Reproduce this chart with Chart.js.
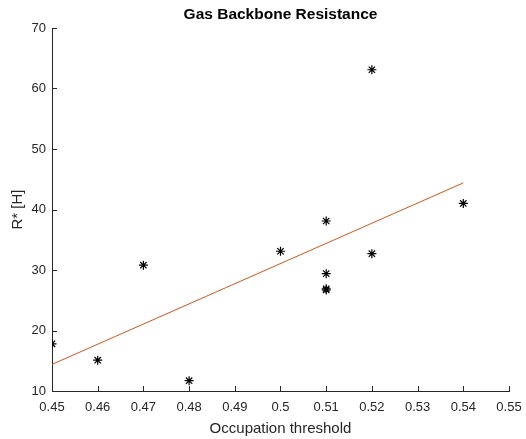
<!DOCTYPE html>
<html>
<head>
<meta charset="utf-8">
<script src="https://cdn.jsdelivr.net/npm/chart.js@4"></script>
<style>
  body { margin: 0; background: #fff; }
  #c { display: block; }
</style>
</head>
<body>
<canvas id="c" width="526" height="439"></canvas>
<script>
// données
const thresholds = [0.45, 0.46, 0.47, 0.48, 0.50, 0.51, 0.51, 0.51, 0.51, 0.52, 0.52, 0.54];
const resistance = [17.8, 15.1, 30.8, 11.7, 33.1, 38.1, 29.4, 26.9, 26.7, 63.1, 32.7, 41.0];
const fitX = [0.45, 0.54];
const fitY = [14.4, 44.4];
const xTicks = [0.45, 0.46, 0.47, 0.48, 0.49, 0.5, 0.51, 0.52, 0.53, 0.54, 0.55];
const yTicks = [10, 20, 30, 40, 50, 60, 70];
const chartTitle = 'Gas Backbone Resistance';

const font = "'Liberation Sans', Arial, Helvetica, sans-serif";
const axisColor = '#262626';

// petits traits de graduation tournés vers l'intérieur (style MATLAB) + titre centré sur la zone du tracé
const matlabStyle = {
  id: 'matlabStyle',
  afterDraw(chart) {
    const ctx = chart.ctx;
    const xs = chart.scales.x, ys = chart.scales.y;
    const area = chart.chartArea;
    ctx.save();
    ctx.strokeStyle = axisColor;
    ctx.lineWidth = 1;
    ctx.beginPath();
    xTicks.forEach(v => {
      const px = Math.round(xs.getPixelForValue(v)) + 0.5;
      ctx.moveTo(px, ys.bottom);
      ctx.lineTo(px, ys.bottom - 5);
    });
    yTicks.forEach(v => {
      const py = Math.round(ys.getPixelForValue(v)) + 0.5;
      ctx.moveTo(xs.left, py);
      ctx.lineTo(xs.left + 5, py);
    });
    ctx.stroke();

    ctx.fillStyle = '#000';
    ctx.font = 'bold 15.5px ' + font;
    ctx.textAlign = 'center';
    ctx.textBaseline = 'middle';
    ctx.fillText(chartTitle, (area.left + area.right) / 2, 15);
    ctx.restore();
  }
};

const chart = new Chart(document.getElementById('c'), {
  type: 'scatter',
  data: {
    datasets: [
      {
        label: 'data',
        data: thresholds.map((x, i) => ({ x: x, y: resistance[i] })),
        pointStyle: 'star',
        radius: 4.5,
        borderColor: '#000',
        borderWidth: 1.2,
        backgroundColor: '#000'
      },
      {
        label: 'fit',
        type: 'line',
        data: fitX.map((x, i) => ({ x: x, y: fitY[i] })),
        borderColor: '#D95319',
        borderWidth: 1,
        pointRadius: 0
      }
    ]
  },
  options: {
    responsive: false,
    animation: false,
    layout: { padding: { left: 0, right: 17, top: 28, bottom: 0 } },
    plugins: {
      legend: { display: false },
      tooltip: { enabled: false },
      title: { display: false }
    },
    scales: {
      x: {
        type: 'linear',
        min: 0.45,
        max: 0.55,
        afterBuildTicks: s => { s.ticks = xTicks.map(v => ({ value: v })); },
        afterFit: s => { s.height = 48; s.paddingRight = 0; s.paddingLeft = 0; },
        border: { color: axisColor, width: 1 },
        grid: { drawOnChartArea: false, drawTicks: false },
        ticks: {
          color: axisColor,
          padding: 9,
          maxRotation: 0,
          font: { family: font, size: 13 },
          callback: v => String(+v.toFixed(2))
        },
        title: {
          display: true,
          text: 'Occupation threshold',
          color: axisColor,
          font: { family: font, size: 15 },
          padding: { top: 2, bottom: 1 }
        }
      },
      y: {
        min: 10,
        max: 70,
        afterBuildTicks: s => { s.ticks = yTicks.map(v => ({ value: v })); },
        afterFit: s => { s.width = 52; s.paddingTop = 0; s.paddingBottom = 0; },
        border: { color: axisColor, width: 1 },
        grid: { drawOnChartArea: false, drawTicks: false },
        ticks: {
          color: axisColor,
          padding: 6,
          font: { family: font, size: 13 }
        },
        title: {
          display: true,
          text: 'R* [H]',
          color: axisColor,
          font: { family: font, size: 15 },
          padding: { top: 9, bottom: 0 }
        }
      }
    }
  },
  plugins: [matlabStyle]
});
</script>
</body>
</html>
